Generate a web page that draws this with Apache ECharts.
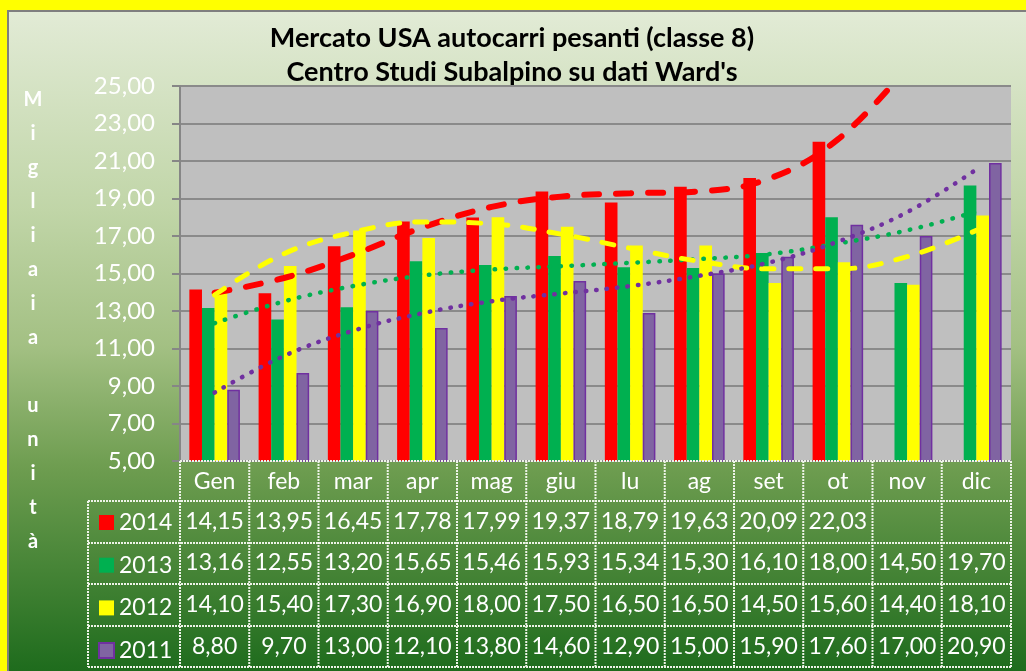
<!DOCTYPE html>
<html>
<head>
<meta charset="utf-8">
<script src="https://cdn.jsdelivr.net/npm/echarts@6/dist/echarts.min.js"></script>
<style>
  html, body { margin: 0; padding: 0; background: #ffff00; }
  #chart { width: 1026px; height: 671px; }
</style>
</head>
<body>
<div id="chart"></div>
<script>
// mesi e valori (migliaia di unità)
const months = ['Gen', 'feb', 'mar', 'apr', 'mag', 'giu', 'lu', 'ag', 'set', 'ot', 'nov', 'dic'];
const years = ['2014', '2013', '2012', '2011'];
const v2014 = [14.15, 13.95, 16.45, 17.78, 17.99, 19.37, 18.79, 19.63, 20.09, 22.03, null, null];
const v2013 = [13.16, 12.55, 13.20, 15.65, 15.46, 15.93, 15.34, 15.30, 16.10, 18.00, 14.50, 19.70];
const v2012 = [14.10, 15.40, 17.30, 16.90, 18.00, 17.50, 16.50, 16.50, 14.50, 15.60, 14.40, 18.10];
const v2011 = [8.80, 9.70, 13.00, 12.10, 13.80, 14.60, 12.90, 15.00, 15.90, 17.60, 17.00, 20.90];

const trend2014 = [13.97, 14.76, 16.00, 17.45, 18.55, 19.10, 19.28, 19.38, 20.05, 22.15, 26.00, null];
const trend2013 = [12.35, 13.51, 14.33, 14.89, 15.21, 15.39, 15.57, 15.77, 16.03, 16.60, 17.30, 18.30];
const trend2012 = [13.85, 16.05, 17.20, 17.75, 17.65, 17.10, 16.35, 15.65, 15.25, 15.25, 15.90, 17.30];
const trend2011 = [8.65, 10.60, 11.95, 12.88, 13.52, 13.93, 14.33, 14.88, 15.58, 16.70, 18.27, 20.55];

// asse y
const yMin = 5;
const yMax = 25;
const yStep = 2;

const colors = ['#ff0000', '#00b050', '#ffff00', '#8064a2'];
const fontFam = 'Lato, "Open Sans", sans-serif';

const fmt = v => (v == null ? '' : v.toFixed(2).replace('.', ','));

// area del grafico
const plotLeft = 180, plotTop = 86, plotRight = 1011, plotBottom = 461;
const tableLeft = 88;
const rowLines = [461, 501, 543, 584, 626, 667];
const rowMargins = [61, 102, 144, 186];

const myChart = echarts.init(document.getElementById('chart'));

// tabella dati: righe sotto l'asse x
const rowValues = [v2014, v2013, v2012, v2011];
const tableAxes = rowValues.map((arr, i) => ({
    type: 'category',
    gridIndex: 0,
    position: 'bottom',
    data: arr.map(fmt),
    axisLine: { show: false },
    axisTick: { show: false },
    splitLine: { show: false },
    axisLabel: {
        color: '#fff',
        fontSize: 23,
        fontFamily: fontFam,
        margin: rowMargins[i],
        verticalAlign: 'middle',
        interval: 0
    }
}));

// linee della tabella
const tableLines = [];
const lineStyle = { stroke: '#eef3e8', lineWidth: 2, lineDash: [2, 1] };
const colW = (plotRight - plotLeft) / months.length;
rowLines.forEach((y, i) => {
    tableLines.push({
        type: 'line', z: 100, silent: true,
        shape: { x1: i === 0 ? plotLeft : tableLeft, y1: y, x2: plotRight, y2: y },
        style: lineStyle
    });
});
for (let i = 0; i <= months.length; i++) {
    const x = plotLeft + i * colW;
    tableLines.push({
        type: 'line', z: 100, silent: true,
        shape: { x1: x, y1: rowLines[0], x2: x, y2: rowLines[5] },
        style: lineStyle
    });
}
tableLines.push({
    type: 'line', z: 100, silent: true,
    shape: { x1: tableLeft, y1: rowLines[1], x2: tableLeft, y2: rowLines[5] },
    style: lineStyle
});

const barSeries = [v2014, v2013, v2012, v2011].map((arr, i) => ({
    name: years[i],
    type: 'bar',
    data: arr,
    barGap: '0%',
    barCategoryGap: '27%',
    itemStyle: i === 3
        ? { color: colors[i], borderColor: '#7030a0', borderWidth: 1.5 }
        : { color: colors[i] }
}));

const trendDefs = [
    { data: trend2014, color: '#ff0000', width: 6, type: [15, 17] },
    { data: trend2013, color: '#00b050', width: 4.5, type: [0.5, 10.5] },
    { data: trend2012, color: '#ffff00', width: 5, type: [12, 15] },
    { data: trend2011, color: '#7030a0', width: 4.5, type: [0.5, 10] }
];
const trendSeries = trendDefs.map(t => ({
    type: 'line',
    data: t.data,
    smooth: 0.4,
    showSymbol: false,
    z: 5,
    clip: true,
    lineStyle: { color: t.color, width: t.width, type: t.type, cap: 'round' }
}));

let option = {
    backgroundColor: '#ffff00',
    animation: false,
    title: {
        text: "Mercato USA autocarri pesanti (classe 8)\nCentro Studi Subalpino su dati Ward's",
        left: 507,
        top: 16,
        textAlign: 'center',
        textStyle: {
            fontSize: 27,
            fontWeight: 'bold',
            fontFamily: fontFam,
            color: '#000',
            lineHeight: 34
        }
    },
    legend: {
        data: years,
        orient: 'vertical',
        left: 98,
        top: 511,
        padding: 0,
        icon: 'rect',
        itemWidth: 15,
        itemHeight: 15,
        itemGap: 19.7,
        textStyle: { color: '#fff', fontSize: 23, fontFamily: fontFam, lineHeight: 22 }
    },
    grid: {
        left: plotLeft,
        top: plotTop,
        right: 1026 - plotRight,
        bottom: 671 - plotBottom,
        show: true,
        backgroundColor: '#bfbfbf',
        borderWidth: 0
    },
    xAxis: [{
        type: 'category',
        data: months,
        axisLine: { lineStyle: { color: '#868686', width: 2 } },
        axisTick: { show: false },
        axisLabel: {
            color: '#fff',
            fontSize: 23,
            fontFamily: fontFam,
            margin: 21,
            verticalAlign: 'middle',
            interval: 0
        }
    }].concat(tableAxes),
    yAxis: {
        type: 'value',
        min: yMin,
        max: yMax,
        interval: yStep,
        axisLine: { show: true, lineStyle: { color: '#868686', width: 2 } },
        axisTick: { show: true, length: 8, lineStyle: { color: '#868686', width: 2 } },
        splitLine: { lineStyle: { color: '#8a8a8a', width: 2 } },
        axisLabel: {
            color: '#fff',
            fontSize: 24,
            fontFamily: fontFam,
            margin: 25,
            formatter: fmt
        }
    },
    graphic: [
        {
            type: 'rect', z: -100, silent: true,
            shape: { x: 8, y: 11, width: 1030, height: 670 },
            style: {
                stroke: '#7f7f7f',
                lineWidth: 2,
                fill: new echarts.graphic.LinearGradient(0, 0, 0, 1, [
                    { offset: 0, color: '#e2ebd6' },
                    { offset: 0.3, color: '#c0d5a7' },
                    { offset: 0.5, color: '#a3c083' },
                    { offset: 0.68, color: '#6e9d50' },
                    { offset: 1, color: '#1a691a' }
                ])
            }
        },
        {
            type: 'text', z: 100, silent: true,
            x: 33, y: 83,
            style: {
                text: 'M\ni\ng\nl\ni\na\ni\na\n \nu\nn\ni\nt\nà',
                fill: '#fff',
                font: 'bold 20px ' + fontFam,
                align: 'center',
                verticalAlign: 'top',
                lineHeight: 34
            }
        }
    ].concat(tableLines),
    series: barSeries.concat(trendSeries)
};

myChart.setOption(option);
</script>
</body>
</html>
